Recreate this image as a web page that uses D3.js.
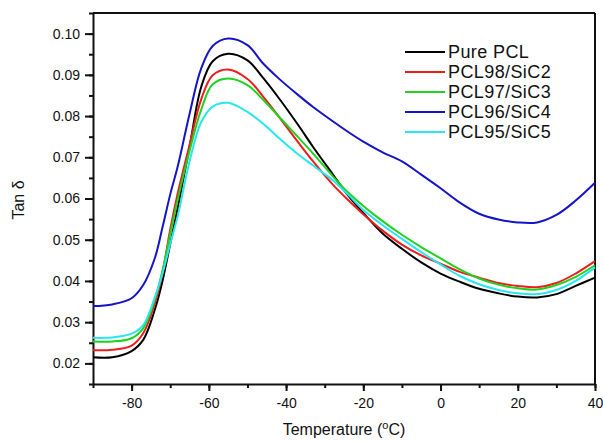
<!DOCTYPE html>
<html>
<head>
  <meta charset="utf-8">
  <title>Tan delta</title>
  <style>
    body { margin: 0; background: #fff; }
    svg { font-family: "Liberation Sans", Arial, sans-serif; }
    .axis path, .axis line { stroke: #111; stroke-width: 2px; }
    .axis text { font-size: 14px; fill: #111; }
    .curve { fill: none; stroke-width: 2px; }
  </style>
</head>
<body>
  <svg width="603" height="442"></svg>

  <script src="https://d3js.org/d3.v7.min.js"></script>
  <script>
    // temperatures (°C)
    var temps = [-90, -85, -80, -77, -74, -72, -70, -68, -65, -62, -59, -55, -50, -46, -42, -37,
                 -33, -28, -24, -20, -15, -10, -5, 0, 5, 10, 15, 20, 25, 30, 35, 40];

    var purePCL = [0.0215, 0.0215, 0.0230, 0.0257, 0.0330, 0.0400, 0.0490, 0.0580, 0.0725, 0.0870, 0.0933, 0.0951, 0.0935, 0.0893, 0.0845, 0.0780,
                   0.0725, 0.0660, 0.0608, 0.0565, 0.0515, 0.0478, 0.0445, 0.0418, 0.0398, 0.0381, 0.0370, 0.0362, 0.0360, 0.0368, 0.0388, 0.0408];
    var pcl98 = [0.0232, 0.0233, 0.0243, 0.0273, 0.0345, 0.0420, 0.0525, 0.0615, 0.0730, 0.0840, 0.0899, 0.0913, 0.0890, 0.0848, 0.0800, 0.0738,
                 0.0690, 0.0635, 0.0597, 0.0562, 0.0522, 0.0488, 0.0462, 0.0442, 0.0422, 0.0408, 0.0395, 0.0388, 0.0385, 0.0395, 0.0418, 0.0448];
    var pcl97 = [0.0253, 0.0253, 0.0261, 0.0285, 0.0355, 0.0425, 0.0515, 0.0600, 0.0715, 0.0815, 0.0877, 0.0891, 0.0875, 0.0840, 0.0800, 0.0750,
                 0.0709, 0.0655, 0.0615, 0.0582, 0.0545, 0.0512, 0.0482, 0.0455, 0.0428, 0.0406, 0.0391, 0.0382, 0.0379, 0.0390, 0.0410, 0.0438];
    var pcl96 = [0.0339, 0.0343, 0.0358, 0.0390, 0.0455, 0.0530, 0.0610, 0.0680, 0.0805, 0.0915, 0.0970, 0.0988, 0.0972, 0.0928, 0.0892, 0.0852,
                 0.0822, 0.0788, 0.0762, 0.0738, 0.0712, 0.0690, 0.0658, 0.0625, 0.0590, 0.0563, 0.0549, 0.0542, 0.0542, 0.0560, 0.0595, 0.0638];
    var pcl95 = [0.0262, 0.0263, 0.0272, 0.0293, 0.0360, 0.0418, 0.0490, 0.0560, 0.0690, 0.0785, 0.0823, 0.0832, 0.0810, 0.0782, 0.0748, 0.0708,
                 0.0680, 0.0645, 0.0610, 0.0572, 0.0535, 0.0502, 0.0470, 0.0440, 0.0412, 0.0392, 0.0378, 0.0370, 0.0368, 0.0378, 0.0400, 0.0433];

    var names = ["Pure PCL", "PCL98/SiC2", "PCL97/SiC3", "PCL96/SiC4", "PCL95/SiC5"];
    var colors = ["#000000", "#ee1c1c", "#1ed21e", "#1414c8", "#28e6f0"];
    var seriesValues = [purePCL, pcl98, pcl97, pcl96, pcl95];

    var xTicks = [-80, -60, -40, -20, 0, 20, 40];
    var yTicks = [0.02, 0.03, 0.04, 0.05, 0.06, 0.07, 0.08, 0.09, 0.10];

    var margin = { left: 93, top: 13, right: 8, bottom: 58 };
    var width = 603, height = 442;

    var svg = d3.select("svg");

    var x = d3.scaleLinear().domain([-90, 40]).range([margin.left, width - margin.right]);
    var y = d3.scaleLinear().domain([0.015, 0.105]).range([height - margin.bottom, margin.top]);

    // minor ticks first (under major)
    svg.append("g")
      .attr("class", "axis")
      .attr("transform", "translate(0," + y.range()[0] + ")")
      .call(d3.axisBottom(x).tickValues(d3.range(-90, 41, 10)).tickSize(4).tickFormat(""))
      .select(".domain").remove();

    svg.append("g")
      .attr("class", "axis")
      .attr("transform", "translate(" + x.range()[0] + ",0)")
      .call(d3.axisLeft(y).tickValues(d3.range(0.015, 0.1051, 0.005)).tickSize(4).tickFormat(""))
      .select(".domain").remove();

    // major axes
    svg.append("g")
      .attr("class", "axis")
      .attr("transform", "translate(0," + y.range()[0] + ")")
      .call(d3.axisBottom(x).tickValues(xTicks).tickSize(7).tickSizeOuter(0).tickPadding(7)
        .tickFormat(function (d) { return String(d); }));

    svg.append("g")
      .attr("class", "axis")
      .attr("transform", "translate(" + x.range()[0] + ",0)")
      .call(d3.axisLeft(y).tickValues(yTicks).tickSize(8).tickSizeOuter(0).tickPadding(5).tickFormat(d3.format(".2f")));

    // top and right frame
    svg.append("line")
      .attr("x1", x.range()[0]).attr("x2", x.range()[1])
      .attr("y1", y.range()[1]).attr("y2", y.range()[1])
      .attr("stroke", "#111").attr("stroke-width", 2);
    svg.append("line")
      .attr("x1", x.range()[1]).attr("x2", x.range()[1])
      .attr("y1", y.range()[1]).attr("y2", y.range()[0])
      .attr("stroke", "#111").attr("stroke-width", 2);

    // curves
    var line = d3.line()
      .x(function (d) { return x(d[0]); })
      .y(function (d) { return y(d[1]); })
      .curve(d3.curveCatmullRom.alpha(0.5));

    seriesValues.forEach(function (vals, i) {
      svg.append("path")
        .datum(temps.map(function (t, j) { return [t, vals[j]]; }))
        .attr("class", "curve")
        .attr("stroke", colors[i])
        .attr("d", line);
    });

    // legend
    var legend = svg.append("g").attr("transform", "translate(405,52)");
    names.forEach(function (name, i) {
      var row = legend.append("g").attr("transform", "translate(0," + (i * 20) + ")");
      row.append("line")
        .attr("x1", 0).attr("x2", 40)
        .attr("stroke", colors[i]).attr("stroke-width", 2);
      row.append("text")
        .attr("x", 43).attr("dy", "0.35em")
        .style("font-size", "18px")
        .style("letter-spacing", "0.4px")
        .attr("fill", "#111")
        .text(name);
    });

    // axis titles
    var xt = svg.append("text")
      .attr("x", (x.range()[0] + x.range()[1]) / 2)
      .attr("y", 435)
      .attr("text-anchor", "middle")
      .style("font-size", "16px")
      .attr("fill", "#111");
    xt.append("tspan").text("Temperature (");
    xt.append("tspan").attr("baseline-shift", "super").style("font-size", "11px").text("o");
    xt.append("tspan").text("C)");

    svg.append("text")
      .attr("transform", "translate(24,200) rotate(-90)")
      .attr("text-anchor", "middle")
      .style("font-size", "16px")
      .attr("fill", "#111")
      .text("Tan \u03b4");
  </script>
</body>
</html>
